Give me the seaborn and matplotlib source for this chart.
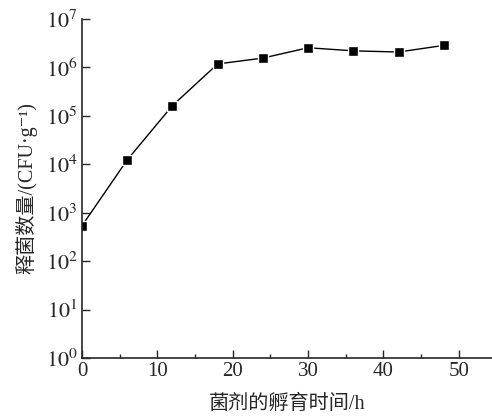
import seaborn as sns
import matplotlib.pyplot as plt
import numpy as np
from matplotlib.ticker import MultipleLocator, FixedLocator, FuncFormatter

hours = [0, 6, 12, 18, 24, 30, 36, 42, 48]
cfu = [540, 1.23e4, 1.63e5, 1.18e6, 1.56e6, 2.55e6, 2.2e6, 2.08e6, 2.85e6]

sns.set_style("ticks")
plt.rcParams["font.family"] = ["Liberation Serif", "Noto Sans CJK SC", "DejaVu Serif"]
plt.rcParams["mathtext.fontset"] = "stix"

fig = plt.figure(figsize=(4.92, 4.16), dpi=100)
ax = fig.add_axes([82 / 492, 58 / 416, 410 / 492, 339 / 416])

sns.lineplot(
    x=hours,
    y=cfu,
    ax=ax,
    color="black",
    linewidth=1.0,
    marker="s",
    markersize=7.5,
    markeredgecolor="white",
    markeredgewidth=1.0,
)

ax.set_yscale("log")
ax.set_ylim(1, 1e7)
ax.set_xlim(0, 54.4)

# y ticks: decades only, labelled 10^k
ax.yaxis.set_major_locator(FixedLocator([10.0 ** k for k in range(8)]))
ax.yaxis.set_minor_locator(FixedLocator([]))
ax.yaxis.set_major_formatter(FuncFormatter(lambda v, p: r"$10^{%d}$" % round(np.log10(v))))

ax.xaxis.set_major_locator(MultipleLocator(10))
ax.xaxis.set_minor_locator(MultipleLocator(5))

ax.tick_params(axis="both", which="major", direction="in", length=6, width=1,
               labelsize=15, pad=3)
ax.tick_params(axis="y", which="major", labelsize=16)
ax.tick_params(axis="x", which="minor", direction="in", length=3, width=1)

sns.despine(ax=ax)
for s in ["left", "bottom"]:
    ax.spines[s].set_linewidth(1.2)

ax.set_xlabel("菌剂的孵育时间/h", fontsize=14.5, labelpad=10)
ax.set_ylabel("释菌数量/(CFU·g⁻¹)", fontsize=14.5, labelpad=6)

plt.savefig("out.png", dpi=100)
